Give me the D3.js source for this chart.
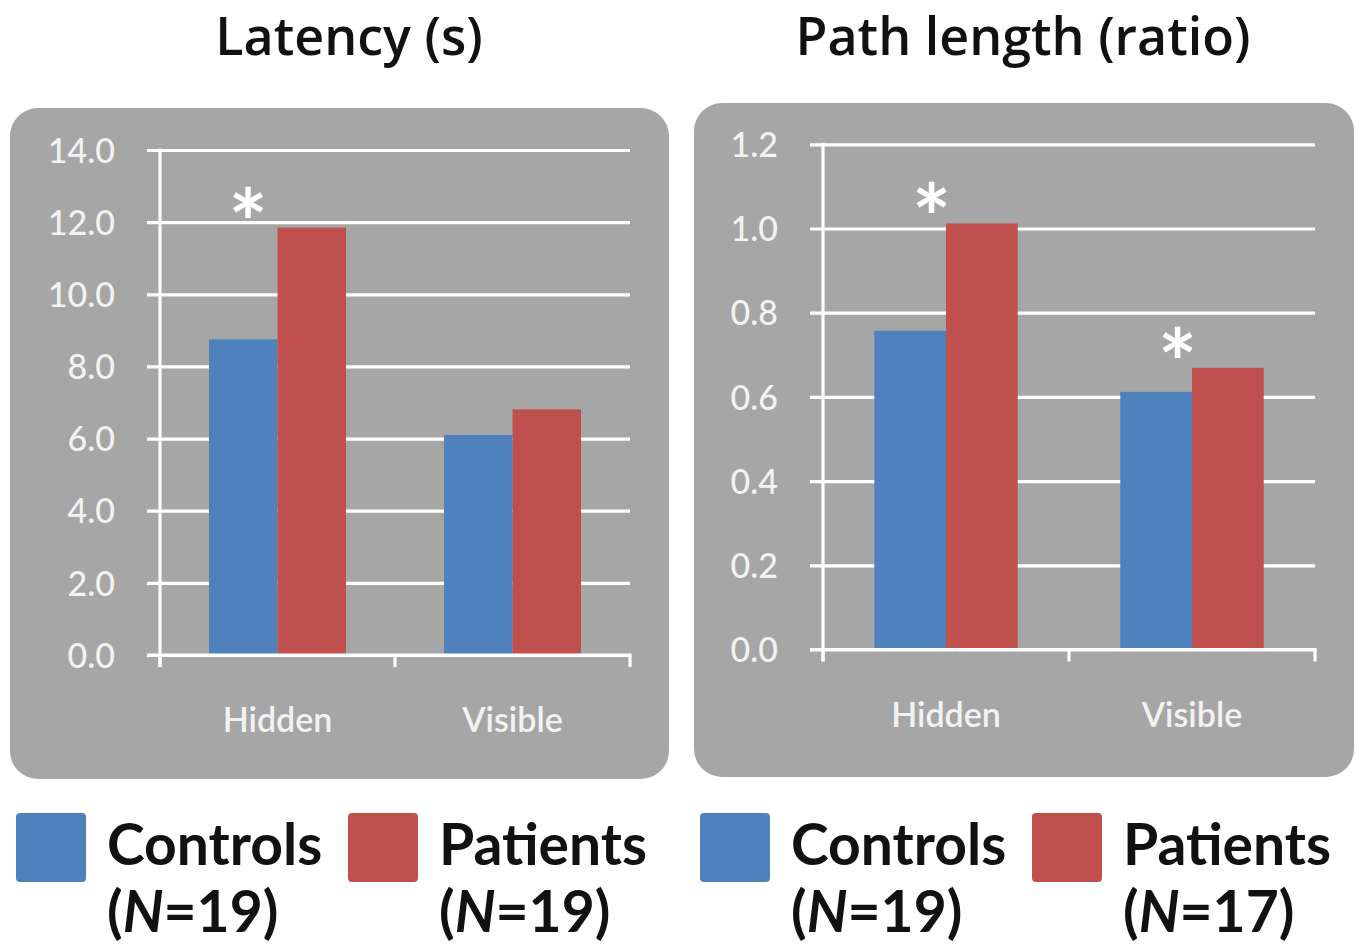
<!DOCTYPE html>
<html>
<head>
<meta charset="utf-8">
<script src="https://cdn.jsdelivr.net/npm/d3@7"></script>
<style>
  html, body { margin: 0; padding: 0; background: #ffffff; }
  svg { display: block; }
</style>
</head>
<body>
<svg id="chart" width="1355" height="952"></svg>
<script>
// ---------------- data ----------------
const categories = ["Hidden", "Visible"];
const seriesNames = ["Controls", "Patients"];
const seriesColors = ["#4f81bd", "#c0504d"];

const latencyTitle = "Latency (s)";
const latencyControls = [8.75, 6.10];
const latencyPatients = [11.85, 6.81];
const latencyTicks = [0, 2, 4, 6, 8, 10, 12, 14];
const latencySignificant = [true, false];
const latencyN = ["19", "19"];

const pathTitle = "Path length (ratio)";
const pathControls = [0.757, 0.612];
const pathPatients = [1.012, 0.669];
const pathTicks = [0, 0.2, 0.4, 0.6, 0.8, 1.0, 1.2];
const pathSignificant = [true, true];
const pathN = ["19", "17"];

// ---------------- layout ----------------
const panels = [
  { title: latencyTitle, values: [latencyControls, latencyPatients], ticks: latencyTicks,
    sig: latencySignificant, n: latencyN, titleX: 349,
    box: { x: 10, y: 108, w: 659, h: 671 }, plot: { x0: 160, x1: 630, yb: 655, yt: 150 },
    starDx: -0.43 },
  { title: pathTitle, values: [pathControls, pathPatients], ticks: pathTicks,
    sig: pathSignificant, n: pathN, titleX: 1023,
    box: { x: 694, y: 103, w: 660, h: 674 }, plot: { x0: 823, x1: 1315, yb: 649.5, yt: 144.3 },
    starDx: -0.2 }
];

const svg = d3.select("#chart");
const FONT = "Lato, 'Open Sans', sans-serif";
const TITLE_FONT = "'Open Sans', Lato, sans-serif";
const fmt = d3.format(".1f");

panels.forEach(p => {
  const g = svg.append("g");

  // title
  g.append("text")
    .attr("x", p.titleX).attr("y", 55)
    .attr("text-anchor", "middle")
    .attr("font-family", TITLE_FONT).attr("font-weight", 600)
    .attr("font-size", 52).attr("fill", "#111")
    .text(p.title);

  // background
  g.append("rect")
    .attr("x", p.box.x).attr("y", p.box.y)
    .attr("width", p.box.w).attr("height", p.box.h)
    .attr("rx", 28).attr("ry", 28)
    .attr("fill", "#a6a6a6");

  const x = d3.scaleBand().domain(categories).range([p.plot.x0, p.plot.x1]).padding(0);
  const xs = d3.scaleBand().domain(seriesNames).range([0, x.bandwidth()]).paddingInner(0).paddingOuter(0.715);
  const yMax = p.ticks[p.ticks.length - 1];
  const y = d3.scaleLinear().domain([0, yMax]).range([p.plot.yb, p.plot.yt]);

  // gridlines + y ticks
  const yAxis = d3.axisLeft(y).tickValues(p.ticks).tickFormat(fmt)
    .tickSize(-(p.plot.x1 - p.plot.x0) - 13).tickPadding(0);
  const ya = g.append("g").attr("transform", `translate(${p.plot.x1},0)`).call(yAxis);
  ya.select(".domain").remove();
  ya.selectAll(".tick line")
    .attr("x1", 0).attr("x2", -(p.plot.x1 - p.plot.x0) - 13)
    .attr("stroke", "#ffffff").attr("stroke-width", 3.2);
  ya.selectAll(".tick text")
    .attr("x", -(p.plot.x1 - p.plot.x0) - 45)
    .attr("dy", "0.36em")
    .attr("fill", "#f2f2f2")
    .attr("font-family", FONT).attr("font-size", 34).attr("font-weight", 500)
    .attr("text-anchor", "end");

  // bars
  const data = [];
  categories.forEach((c, i) => seriesNames.forEach((s, j) => data.push({ c, s, v: p.values[j][i], j })));
  g.append("g").selectAll("rect").data(data).join("rect")
    .attr("x", d => x(d.c) + xs(d.s))
    .attr("width", xs.bandwidth())
    .attr("y", d => y(d.v))
    .attr("height", d => y(0) - y(d.v))
    .attr("fill", d => seriesColors[d.j]);

  // axes lines
  g.append("line")
    .attr("x1", p.plot.x0).attr("x2", p.plot.x0)
    .attr("y1", p.plot.yt - 1.5).attr("y2", p.plot.yb + 12)
    .attr("stroke", "#fff").attr("stroke-width", 3.2);
  const xAxis = d3.axisBottom(x).tickSize(0).tickPadding(0);
  const xa = g.append("g").attr("transform", `translate(0,${p.plot.yb})`).call(xAxis);
  xa.select(".domain").remove();
  xa.selectAll(".tick line").remove();
  xa.selectAll(".tick text")
    .attr("y", 77).attr("dy", 0)
    .attr("fill", "#f2f2f2")
    .attr("font-family", FONT).attr("font-size", 34).attr("font-weight", 600);
  // x baseline + boundary ticks
  g.append("line")
    .attr("x1", p.plot.x0 - 13).attr("x2", p.plot.x1 + 1.5)
    .attr("y1", p.plot.yb).attr("y2", p.plot.yb)
    .attr("stroke", "#fff").attr("stroke-width", 3.2);
  const bounds = [p.plot.x0, ...categories.slice(1).map(c => x(c)), p.plot.x1];
  g.append("g").selectAll("line").data(bounds).join("line")
    .attr("x1", d => d).attr("x2", d => d)
    .attr("y1", p.plot.yb).attr("y2", p.plot.yb + 12)
    .attr("stroke", "#fff").attr("stroke-width", 3.2);

  // significance stars
  const stars = categories.map((c, i) => ({ c, i, v: Math.max(p.values[0][i], p.values[1][i]) }))
    .filter(d => p.sig[d.i]);
  g.append("g").selectAll("text").data(stars).join("text")
    .attr("x", d => x(d.c) + x.bandwidth() / 2 + p.starDx * xs.bandwidth())
    .attr("y", d => y(d.v) + 29)
    .attr("text-anchor", "middle")
    .attr("font-family", FONT).attr("font-weight", 700)
    .attr("font-size", 92).attr("fill", "#ffffff")
    .text("*");

  // legend
  const lg = g.append("g");
  const legendOffsets = [[6, 97], [338, 429]];
  seriesNames.forEach((s, j) => {
    const [sqOff, txOff] = legendOffsets[j];
    lg.append("rect")
      .attr("x", p.box.x + sqOff).attr("y", 813)
      .attr("width", 70).attr("height", 69)
      .attr("rx", 4).attr("fill", seriesColors[j]);
    lg.append("text")
      .attr("x", p.box.x + txOff).attr("y", 865)
      .attr("font-family", FONT).attr("font-weight", 700)
      .attr("font-size", 57).attr("fill", "#111")
      .text(s);
    const t2 = lg.append("text")
      .attr("x", p.box.x + txOff).attr("y", 932)
      .attr("font-family", FONT).attr("font-weight", 700)
      .attr("font-size", 57).attr("fill", "#111");
    t2.append("tspan").text("(");
    t2.append("tspan").attr("font-style", "italic").text("N");
    t2.append("tspan").text("=" + p.n[j] + ")");
  });
});
</script>
</body>
</html>
